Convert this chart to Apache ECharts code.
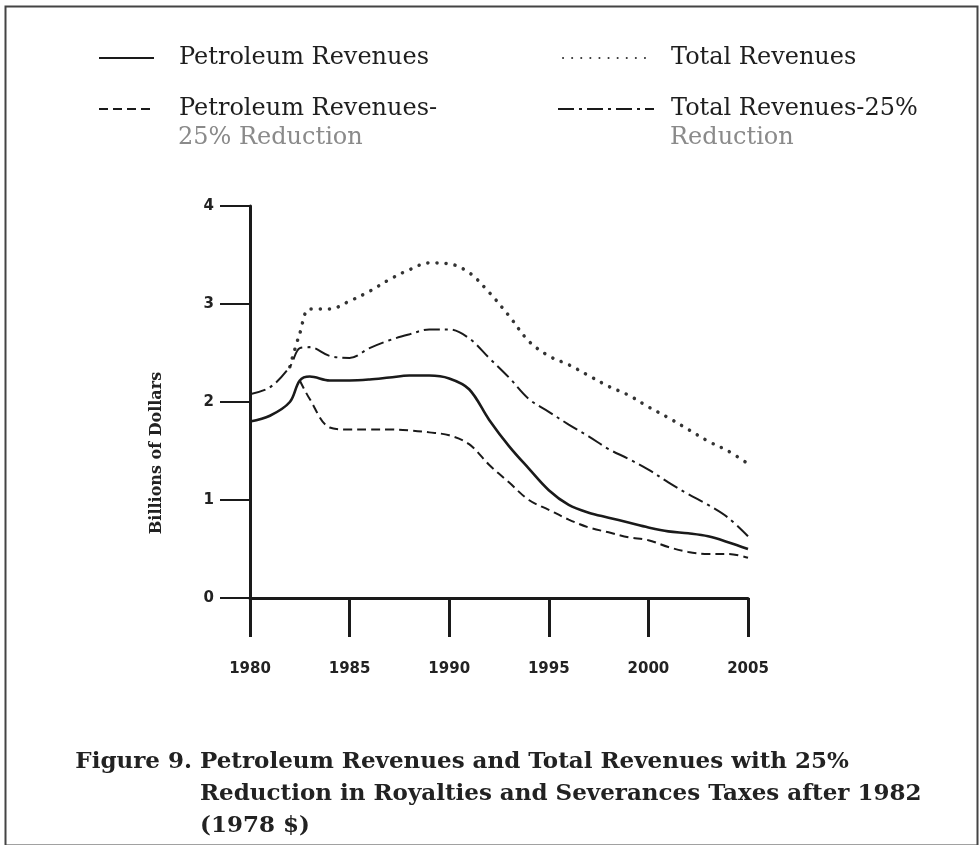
<!DOCTYPE html>
<html>
<head>
<meta charset="utf-8">
<script src="https://cdn.jsdelivr.net/npm/echarts@6/dist/echarts.min.js"></script>
<style>
  html, body { margin: 0; padding: 0; background: #fff; }
  #chart { width: 979px; height: 845px; }
</style>
</head>
<body>
<div id="chart"></div>
<script>
// years sampled along the curves
var years = [1980, 1981, 1982, 1982.5, 1983, 1984, 1985, 1986, 1987, 1988, 1989, 1990, 1991,
  1992, 1993, 1994, 1995, 1996, 1997, 1998, 1999, 2000, 2001, 2002, 2003, 2004, 2005]
// billions of 1978 dollars
var petroleum = [1.80, 1.86, 2.00, 2.22, 2.26, 2.22, 2.22, 2.23, 2.25, 2.27, 2.27, 2.24, 2.13,
  1.82, 1.55, 1.32, 1.10, 0.95, 0.87, 0.82, 0.77, 0.72, 0.68, 0.66, 0.63, 0.57, 0.50]
var petroleumCut = ['-', '-', '-', 2.22, 2.03, 1.74, 1.72, 1.72, 1.72, 1.71, 1.69, 1.66, 1.57,
  1.36, 1.18, 1.00, 0.90, 0.80, 0.72, 0.67, 0.62, 0.59, 0.52, 0.47, 0.45, 0.45, 0.41]
var total = ['-', '-', 2.36, 2.70, 2.95, 2.95, 3.03, 3.13, 3.25, 3.35, 3.42, 3.41, 3.32,
  3.12, 2.88, 2.62, 2.47, 2.38, 2.27, 2.16, 2.07, 1.95, 1.84, 1.72, 1.60, 1.50, 1.37]
var totalCut = [2.08, 2.15, 2.36, 2.55, 2.56, 2.47, 2.45, 2.55, 2.63, 2.69, 2.74, 2.74, 2.65,
  2.45, 2.25, 2.03, 1.90, 1.77, 1.65, 1.52, 1.42, 1.31, 1.18, 1.06, 0.95, 0.82, 0.63]
var yTicks = [0, 1, 2, 3, 4]
var xTicks = [1980, 1985, 1990, 1995, 2000, 2005]

var names = ['Petroleum Revenues', 'Total Revenues', 'Petroleum Revenues-', 'Total Revenues-25%']

function pairs (vals) {
  return years.map(function (y, i) { return [y, vals[i]] })
}

var ink = '#1a1a1a'
var serif = 'DejaVu Serif'
var chart = echarts.init(document.getElementById('chart'))

// one legend per entry so each can sit where the original puts it
function legendAt (name, left, top, w, pad) {
  return {
    data: [name],
    left: left,
    top: top,
    itemWidth: w,
    itemHeight: 14,
    selectedMode: false,
    itemStyle: { opacity: 0 },
    textStyle: { fontFamily: serif, fontSize: 24, color: '#1e1e1e', padding: [0, 0, 0, pad] }
  }
}

var option = {
  animation: false,
  backgroundColor: '#fff',
  grid: { left: 250, right: 231, top: 206, bottom: 247 },
  legend: [
    legendAt(names[0], 93, 41, 55, 20),
    legendAt(names[1], 557, 41, 86, 17),
    legendAt(names[2], 93, 92, 55, 20),
    legendAt(names[3], 552, 92, 96, 12)
  ],
  xAxis: {
    type: 'value',
    min: 1980,
    max: 2005,
    interval: 5,
    axisLine: { lineStyle: { color: ink, width: 3 } },
    axisTick: { show: true, length: 39, lineStyle: { color: ink, width: 3 } },
    axisLabel: {
      margin: 64,
      color: '#222',
      fontFamily: 'DejaVu Sans',
      fontWeight: 'bold',
      fontSize: 15,
      formatter: function (v) { return xTicks.indexOf(v) >= 0 ? String(v) : '' }
    },
    splitLine: { show: false }
  },
  yAxis: {
    type: 'value',
    min: 0,
    max: 4,
    interval: 1,
    axisLine: { show: true, lineStyle: { color: ink, width: 3 } },
    axisTick: { show: true, length: 30, lineStyle: { color: ink, width: 2 } },
    axisLabel: {
      margin: 36,
      color: '#222',
      fontFamily: 'DejaVu Sans',
      fontWeight: 'bold',
      fontSize: 15,
      formatter: function (v) { return yTicks.indexOf(v) >= 0 ? String(v) : '' }
    },
    splitLine: { show: false }
  },
  graphic: [
    {
      type: 'text', x: 157, y: 453, rotation: Math.PI / 2,
      style: {
        text: 'Billions of Dollars', font: 'bold 16px "DejaVu Serif"', fill: '#222',
        align: 'center', verticalAlign: 'middle'
      }
    },
    {
      type: 'text', left: 178, top: 126,
      style: { text: '25% Reduction', font: '24px "DejaVu Serif"', fill: '#8a8a8a' }
    },
    {
      type: 'text', left: 670, top: 126,
      style: { text: 'Reduction', font: '24px "DejaVu Serif"', fill: '#8a8a8a' }
    },
    {
      type: 'text', x: 192, y: 762,
      style: {
        text: 'Figure 9.', font: 'bold 23px "DejaVu Serif"', fill: '#222',
        align: 'right', verticalAlign: 'middle'
      }
    },
    {
      type: 'text', x: 200, y: 762,
      style: {
        text: 'Petroleum Revenues and Total Revenues with 25%',
        font: 'bold 23px "DejaVu Serif"', fill: '#222', verticalAlign: 'middle'
      }
    },
    {
      type: 'text', x: 200, y: 794,
      style: {
        text: 'Reduction in Royalties and Severances Taxes after 1982',
        font: 'bold 23px "DejaVu Serif"', fill: '#222', verticalAlign: 'middle'
      }
    },
    {
      type: 'text', x: 200, y: 826,
      style: {
        text: '(1978 $)',
        font: 'bold 23px "DejaVu Serif"', fill: '#222', verticalAlign: 'middle'
      }
    },
    {
      type: 'rect', left: 3, top: 4,
      shape: { width: 972, height: 839 },
      style: { fill: 'none', stroke: '#444', lineWidth: 2 }
    }
  ],
  series: [
    {
      name: names[0], type: 'line', smooth: 0.35, symbol: 'none',
      lineStyle: { color: ink, width: 2.6 },
      itemStyle: { color: ink },
      data: pairs(petroleum)
    },
    {
      name: names[1], type: 'line', smooth: 0.35, symbol: 'none',
      lineStyle: { color: '#333', width: 3.5, type: [0.1, 9], cap: 'round' },
      itemStyle: { color: '#333' },
      data: pairs(total)
    },
    {
      name: names[2], type: 'line', smooth: 0.35, symbol: 'none',
      lineStyle: { color: ink, width: 2, type: [9, 5] },
      itemStyle: { color: ink },
      data: pairs(petroleumCut)
    },
    {
      name: names[3], type: 'line', smooth: 0.35, symbol: 'none',
      lineStyle: { color: ink, width: 2, type: [16, 5, 3, 5] },
      itemStyle: { color: ink },
      data: pairs(totalCut)
    }
  ]
}

chart.setOption(option)
</script>
</body>
</html>
